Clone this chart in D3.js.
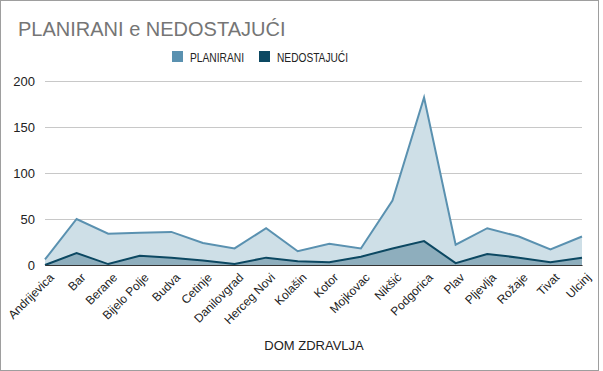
<!DOCTYPE html>
<html>
<head>
<meta charset="utf-8">
<script src="https://cdn.jsdelivr.net/npm/d3@7"></script>
<style>
  body { margin: 0; background: #fff; }
  text { font-family: "Liberation Sans", Arial, sans-serif; }
</style>
</head>
<body>
<script>
// data
var domovi = ['Andrijevica', 'Bar', 'Berane', 'Bijelo Polje', 'Budva', 'Cetinje', 'Danilovgrad',
  'Herceg Novi', 'Kolašin', 'Kotor', 'Mojkovac', 'Nikšić', 'Podgorica', 'Plav', 'Pljevlja',
  'Rožaje', 'Tivat', 'Ulcinj'];
var planirani = [6, 50, 34, 35, 36, 24, 18, 40, 15, 23, 18, 70, 182, 22, 40, 31, 17, 31];
var nedostajuci = [0, 13, 1, 10, 8, 5, 1, 8, 4, 3, 9, 18, 26, 2, 12, 8, 3, 8];
var yTicks = [0, 50, 100, 150, 200];

var W = 603, H = 371;
var svg = d3.select('body').append('svg').attr('width', W).attr('height', H);

// frame
svg.append('rect').attr('x', 0.5).attr('y', 0.5).attr('width', 598).attr('height', H - 1)
  .attr('fill', '#fff').attr('stroke', '#9e9e9e');

var pLeft = 45, pRight = 582, pTop = 81, pBottom = 265;
var x = d3.scalePoint().domain(domovi).range([pLeft, pRight]);
var y = d3.scaleLinear().domain([0, 200]).range([pBottom, pTop]);

// title
svg.append('text').attr('x', 18).attr('y', 36).attr('font-size', 20)
  .attr('fill', '#757575').text('PLANIRANI e NEDOSTAJUĆI');

// legend
var legend = [['PLANIRANI', '#5a91b0', 172], ['NEDOSTAJUĆI', '#0c4862', 259]];
legend.forEach(function(l) {
  svg.append('rect').attr('x', l[2]).attr('y', 51).attr('width', 11).attr('height', 11).attr('fill', l[1]);
  svg.append('text').attr('x', l[2] + 18).attr('y', 61.5).attr('font-size', 13.5).attr('fill', '#222')
    .attr('textLength', l[0].length > 9 ? 71 : 54).attr('lengthAdjust', 'spacingAndGlyphs').text(l[0]);
});

// grid + y labels
var yAxis = d3.axisLeft(y).tickValues(yTicks).tickSize(-(pRight - pLeft)).tickPadding(10);
var gy = svg.append('g').attr('transform', 'translate(' + pLeft + ',0)').call(yAxis);
gy.select('.domain').remove();
gy.selectAll('.tick line').attr('stroke', '#c8c8c8');
gy.selectAll('.tick text').attr('font-size', 13).attr('fill', '#222').attr('font-family', '"Liberation Sans", Arial, sans-serif');

// areas
var areaP = d3.area().x(function(d, i) { return x(domovi[i]); }).y0(pBottom).y1(function(d) { return y(d); });
var lineP = d3.line().x(function(d, i) { return x(domovi[i]); }).y(function(d) { return y(d); });

svg.append('path').datum(planirani).attr('d', areaP).attr('fill', '#cedfe7');
svg.append('path').datum(nedostajuci).attr('d', areaP).attr('fill', '#8eaebd');
svg.append('path').datum(planirani).attr('d', lineP).attr('fill', 'none')
  .attr('stroke', '#5a91b0').attr('stroke-width', 2);
svg.append('path').datum(nedostajuci).attr('d', lineP).attr('fill', 'none')
  .attr('stroke', '#0c4862').attr('stroke-width', 2);

// x axis
var xAxis = d3.axisBottom(x).tickSize(0).tickPadding(6);
var gx = svg.append('g').attr('transform', 'translate(0,' + pBottom + ')').call(xAxis);
gx.select('.domain').attr('stroke', '#333').attr('stroke-width', 1.2);
gx.selectAll('.tick text').attr('font-size', 12).attr('fill', '#222')
  .attr('font-family', '"Liberation Sans", Arial, sans-serif')
  .attr('text-anchor', 'end').attr('dy', '0.35em')
  .attr('transform', 'translate(2,6) rotate(-45)');

svg.append('text').attr('x', 314).attr('y', 350).attr('font-size', 13).attr('fill', '#222')
  .attr('text-anchor', 'middle').text('DOM ZDRAVLJA');
</script>
</body>
</html>
